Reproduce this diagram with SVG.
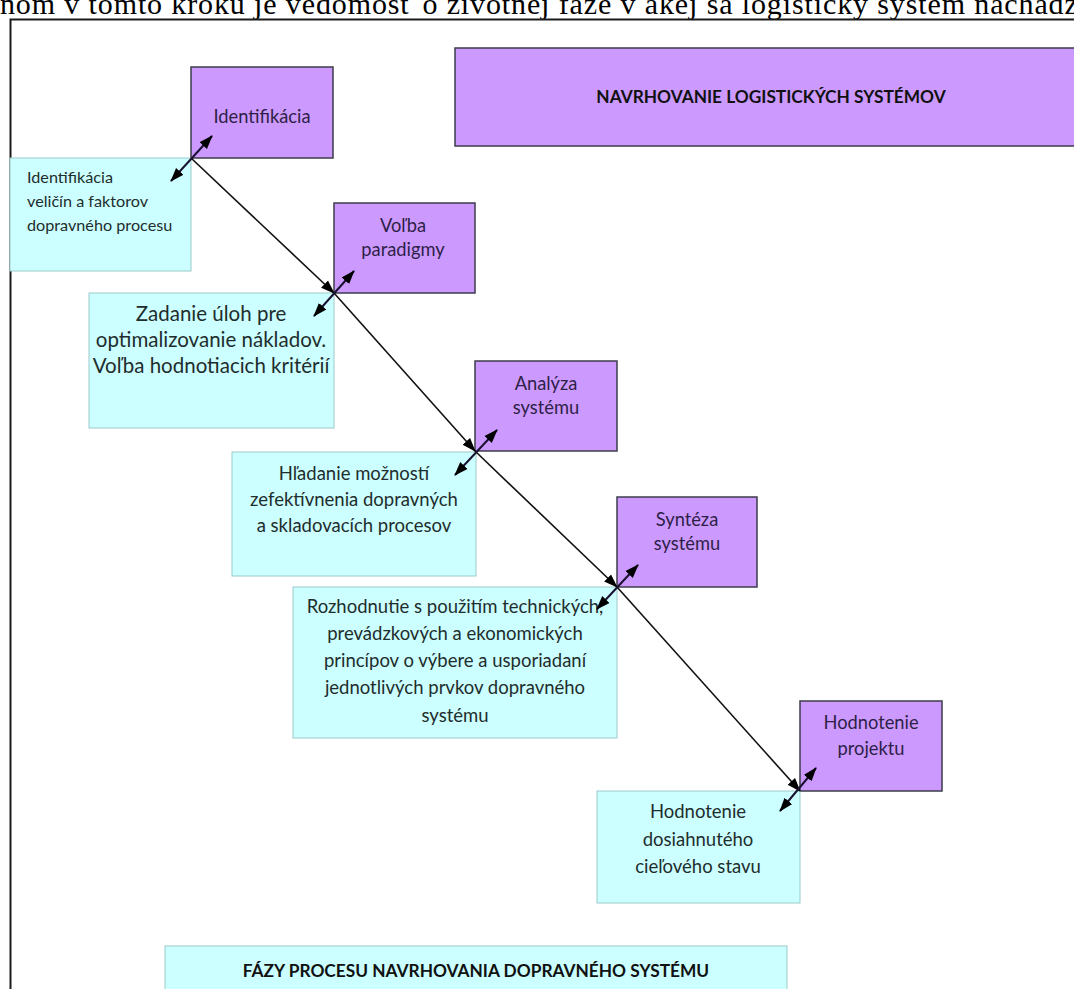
<svg xmlns="http://www.w3.org/2000/svg" width="1074" height="989" viewBox="0 0 1074 989">
<style>
.pbox{fill:#cc99ff;stroke:#3d3d4a;stroke-width:1.5}
.cbox{fill:#ccffff;stroke:#9cc9cc;stroke-width:1}
.pt{font-family:Lato,"Open Sans",sans-serif;font-size:18.3px;fill:#2e1f47;text-anchor:middle}
.ct{font-family:Lato,"Open Sans",sans-serif;font-size:18.5px;fill:#1f2d2d;text-anchor:middle}
.title{font-family:Lato,"Open Sans",sans-serif;font-weight:bold;font-size:17.3px;fill:#111;text-anchor:middle}
.main{stroke:#111;stroke-width:1.6;fill:none;marker-end:url(#ah)}
.dbl{stroke:#1a1030;stroke-width:2;fill:none;marker-start:url(#ah2);marker-end:url(#ah2)}
</style>
<defs>
<marker id="ah" markerUnits="userSpaceOnUse" markerWidth="14" markerHeight="12" refX="13" refY="5" orient="auto" viewBox="0 0 14 10">
<path d="M0,0 L14,5 L0,10 z" fill="#000"/>
</marker>
<marker id="ah2" markerUnits="userSpaceOnUse" markerWidth="14" markerHeight="12" refX="13" refY="5" orient="auto-start-reverse" viewBox="0 0 14 10">
<path d="M0,0 L14,5 L0,10 z" fill="#000"/>
</marker>
</defs>
<rect x="0" y="0" width="1074" height="989" fill="#fff"/>
<text x="0" y="14" font-family="'Liberation Serif',serif" font-size="30" fill="#000" textLength="1092" lengthAdjust="spacing">nom v tomto kroku je vedomosť o životnej fáze v akej sa logistický systém nachádza</text>
<path d="M10.5,989 V19.5 H1074" fill="none" stroke="#1a1a1a" stroke-width="2"/>

<g id="title-top">
<rect class="pbox" x="455" y="48" width="625" height="98"/>
<text class="title" x="771" y="103">NAVRHOVANIE LOGISTICKÝCH SYSTÉMOV</text>
</g>
<g id="title-bottom">
<rect class="cbox" x="165" y="946" width="622" height="60"/>
<text class="title" x="476" y="977">FÁZY PROCESU NAVRHOVANIA DOPRAVNÉHO SYSTÉMU</text>
</g>

<g id="p1">
<rect class="pbox" x="191" y="67" width="142" height="91"/>
<text class="pt" x="262" y="123">Identifikácia</text>
</g>
<g id="c1">
<rect class="cbox" x="10" y="158" width="181" height="113"/>
<text class="ct" x="27" y="183" style="text-anchor:start;font-size:16.2px">Identifikácia</text>
<text class="ct" x="27" y="207" style="text-anchor:start;font-size:16.2px">veličín a faktorov</text>
<text class="ct" x="27" y="231" style="text-anchor:start;font-size:16.2px">dopravného procesu</text>
</g>

<g id="p2">
<rect class="pbox" x="334" y="203" width="141" height="90"/>
<text class="pt" x="403" y="232">Voľba</text>
<text class="pt" x="403" y="256">paradigmy</text>
</g>
<g id="c2">
<rect class="cbox" x="89" y="293" width="245" height="135"/>
<text class="ct" x="211" y="321" style="font-size:20.5px">Zadanie úloh pre</text>
<text class="ct" x="211" y="347" style="font-size:20.5px">optimalizovanie nákladov.</text>
<text class="ct" x="211" y="373" style="font-size:20.5px">Voľba hodnotiacich kritérií</text>
</g>

<g id="p3">
<rect class="pbox" x="475" y="361" width="142" height="90"/>
<text class="pt" x="546" y="390">Analýza</text>
<text class="pt" x="546" y="414">systému</text>
</g>
<g id="c3">
<rect class="cbox" x="232" y="452" width="244" height="124"/>
<text class="ct" x="354" y="480">Hľadanie možností</text>
<text class="ct" x="354" y="506">zefektívnenia dopravných</text>
<text class="ct" x="354" y="532">a skladovacích procesov</text>
</g>

<g id="p4">
<rect class="pbox" x="617" y="497" width="140" height="90"/>
<text class="pt" x="687" y="526">Syntéza</text>
<text class="pt" x="687" y="550">systému</text>
</g>
<g id="c4">
<rect class="cbox" x="293" y="587" width="324" height="151"/>
<text class="ct" x="455" y="613">Rozhodnutie s použitím technických,</text>
<text class="ct" x="455" y="640">prevádzkových a ekonomických</text>
<text class="ct" x="455" y="667">princípov o výbere a usporiadaní</text>
<text class="ct" x="455" y="694">jednotlivých prvkov dopravného</text>
<text class="ct" x="455" y="722">systému</text>
</g>

<g id="p5">
<rect class="pbox" x="800" y="701" width="142" height="90"/>
<text class="pt" x="871" y="729">Hodnotenie</text>
<text class="pt" x="871" y="755">projektu</text>
</g>
<g id="c5">
<rect class="cbox" x="597" y="791" width="203" height="112"/>
<text class="ct" x="698" y="818">Hodnotenie</text>
<text class="ct" x="698" y="846">dosiahnutého</text>
<text class="ct" x="698" y="873">cieľového stavu</text>
</g>

<g id="connectors">
<path class="main" d="M191,158 L334,293"/>
<path class="main" d="M334,293 L475,451"/>
<path class="main" d="M475,451 L617,587"/>
<path class="main" d="M617,587 L800,791"/>
<path class="dbl" d="M171,181 L212,136"/>
<path class="dbl" d="M314,316 L354,271"/>
<path class="dbl" d="M455,475 L497,430"/>
<path class="dbl" d="M597,609 L638,565"/>
<path class="dbl" d="M780,811 L816,768"/>
</g>
</svg>
